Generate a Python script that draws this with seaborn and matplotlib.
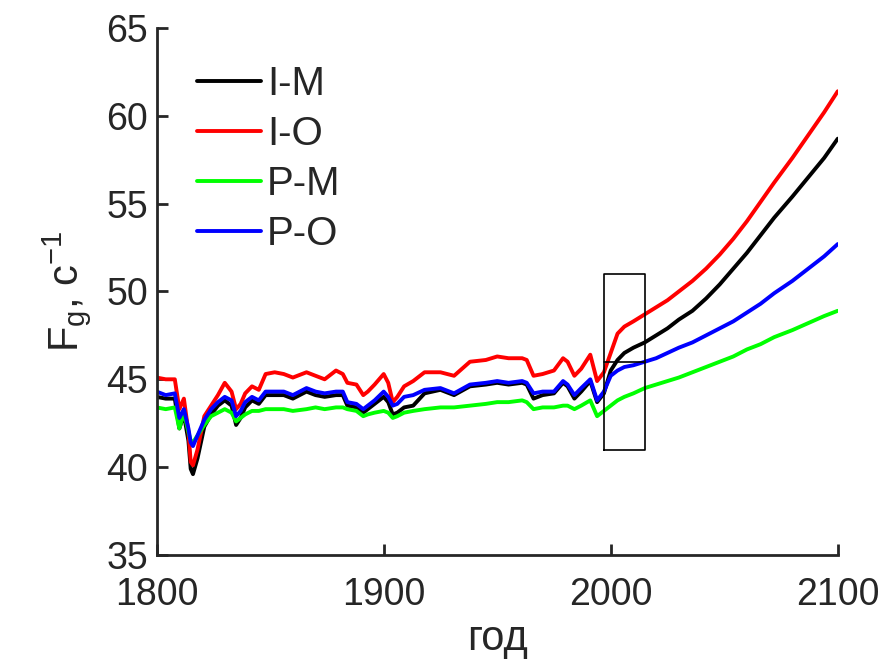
import matplotlib
matplotlib.use("Agg")
from matplotlib import pyplot as plt
import seaborn as sns
import pandas as pd

years = [1800, 1804, 1808, 1810, 1812, 1814, 1815, 1816, 1818, 1821,
         1824, 1827, 1830, 1833, 1835, 1837, 1839, 1842, 1845, 1848,
         1852, 1856, 1860, 1866, 1870, 1874, 1879, 1882, 1884, 1888,
         1891, 1893, 1896, 1900, 1902, 1904, 1906, 1909, 1913, 1918,
         1925, 1931, 1938, 1945, 1950, 1955, 1961, 1963, 1966, 1970,
         1975, 1979, 1981, 1984, 1987, 1991, 1994, 1997,
         2000, 2003, 2006, 2010, 2015, 2020, 2025, 2030, 2036, 2042,
         2048, 2054, 2060, 2066, 2072, 2080, 2087, 2094, 2100]

i_m = [44.0, 43.9, 43.9, 42.2, 43.0, 41.5, 39.9, 39.6, 40.5, 42.3,
       43.0, 43.5, 43.8, 43.5, 42.4, 42.8, 43.4, 43.8, 43.6, 44.1,
       44.1, 44.1, 43.9, 44.3, 44.1, 44.0, 44.1, 44.1, 43.5, 43.4,
       43.1, 43.3, 43.6, 44.0, 43.7, 43.0, 43.1, 43.4, 43.5, 44.2,
       44.4, 44.1, 44.6, 44.7, 44.8, 44.7, 44.8, 44.7, 43.9, 44.1,
       44.2, 44.8, 44.6, 43.9, 44.3, 44.9, 43.7, 44.2,
       45.5, 46.1, 46.5, 46.8, 47.1, 47.5, 47.9, 48.4, 48.9, 49.6,
       50.4, 51.3, 52.2, 53.2, 54.2, 55.4, 56.5, 57.6, 58.7]

i_o = [45.1, 45.0, 45.0, 43.3, 43.9, 42.0, 40.3, 40.1, 41.0, 42.9,
       43.5, 44.1, 44.8, 44.3, 43.3, 43.6, 44.2, 44.6, 44.4, 45.3,
       45.4, 45.3, 45.1, 45.4, 45.2, 45.0, 45.5, 45.3, 44.8, 44.7,
       44.1, 44.3, 44.7, 45.3, 44.8, 43.7, 44.0, 44.6, 44.9, 45.4,
       45.4, 45.2, 46.0, 46.1, 46.3, 46.2, 46.2, 46.1, 45.2, 45.3,
       45.5, 46.2, 46.0, 45.2, 45.6, 46.4, 44.9, 45.4,
       46.5, 47.6, 48.0, 48.3, 48.7, 49.1, 49.5, 50.0, 50.6, 51.3,
       52.1, 53.0, 54.0, 55.1, 56.2, 57.6, 58.9, 60.2, 61.4]

p_m = [43.4, 43.3, 43.4, 42.2, 43.1, 42.0, 41.5, 41.4, 41.8, 42.4,
       42.9, 43.1, 43.3, 43.1, 42.6, 42.8, 43.0, 43.2, 43.2, 43.3,
       43.3, 43.3, 43.2, 43.3, 43.4, 43.3, 43.4, 43.4, 43.3, 43.2,
       42.9, 43.0, 43.1, 43.2, 43.1, 42.8, 42.9, 43.1, 43.2, 43.3,
       43.4, 43.4, 43.5, 43.6, 43.7, 43.7, 43.8, 43.7, 43.3, 43.4,
       43.4, 43.5, 43.5, 43.3, 43.5, 43.8, 42.9, 43.2,
       43.5, 43.8, 44.0, 44.2, 44.5, 44.7, 44.9, 45.1, 45.4, 45.7,
       46.0, 46.3, 46.7, 47.0, 47.4, 47.8, 48.2, 48.6, 48.9]

p_o = [44.3, 44.1, 44.2, 42.8, 43.3, 42.2, 41.4, 41.2, 41.8, 42.7,
       43.3, 43.7, 44.0, 43.8, 42.9, 43.2, 43.7, 44.0, 43.8, 44.3,
       44.3, 44.3, 44.1, 44.5, 44.3, 44.2, 44.3, 44.3, 43.7, 43.6,
       43.3, 43.5, 43.8, 44.3, 44.0, 43.5, 43.6, 44.0, 44.1, 44.4,
       44.5, 44.2, 44.7, 44.8, 44.9, 44.8, 44.9, 44.8, 44.2, 44.3,
       44.3, 44.9, 44.7, 44.1, 44.5, 45.0, 43.8, 44.3,
       45.2, 45.5, 45.7, 45.8, 46.0, 46.2, 46.5, 46.8, 47.1, 47.5,
       47.9, 48.3, 48.8, 49.3, 49.9, 50.6, 51.3, 52.0, 52.7]

labels = ["I-M", "I-O", "P-M", "P-O"]
colors = ["#000000", "#ff0000", "#00ff00", "#0000ff"]

# highlighted window
box_x = [1997, 2015]
box_y = [41, 51]
box_mid = 46

df = pd.concat([pd.DataFrame({"year": years, "Fg": v, "run": lab})
                for v, lab in zip([i_m, i_o, p_m, p_o], labels)])

sns.set_theme(style="ticks")
plt.rcParams["font.family"] = ["Liberation Sans", "DejaVu Sans"]
plt.rcParams["mathtext.default"] = "regular"

fig = plt.figure(figsize=(8.8, 6.67), dpi=100)
ax = fig.add_axes([0.178, 0.168, 0.774, 0.79])

sns.lineplot(data=df, x="year", y="Fg", hue="run", palette=colors,
             linewidth=2.8, ax=ax)

ax.plot([box_x[0], box_x[1], box_x[1], box_x[0], box_x[0]],
        [box_y[0], box_y[0], box_y[1], box_y[1], box_y[0]],
        color="black", linewidth=1.2)
ax.plot(box_x, [box_mid, box_mid], color="black", linewidth=1.2)

ax.set_xlim(1800, 2100)
ax.set_ylim(35, 65)
ax.set_xticks([1800, 1900, 2000, 2100])
ax.set_yticks([35, 40, 45, 50, 55, 60, 65])
ax.tick_params(direction="in", length=8, width=2, labelsize=27,
               colors="#262626")
ax.tick_params(axis="x", pad=16)
ax.tick_params(axis="y", pad=6)
for s in ["left", "bottom"]:
    ax.spines[s].set_linewidth(2)
    ax.spines[s].set_color("#262626")
sns.despine(ax=ax)

ax.set_xlabel("год", fontsize=30, color="#262626", labelpad=4)
ax.set_ylabel("F$_g$, с$^{-1}$", fontsize=30, color="#262626", labelpad=10)

ax.legend(loc="upper left", frameon=False, fontsize=29, handlelength=1.6,
          handletextpad=0.15, labelspacing=0.3, borderaxespad=0.0,
          bbox_to_anchor=(0.035, 0.96))

fig.savefig("out.png", dpi=100)
